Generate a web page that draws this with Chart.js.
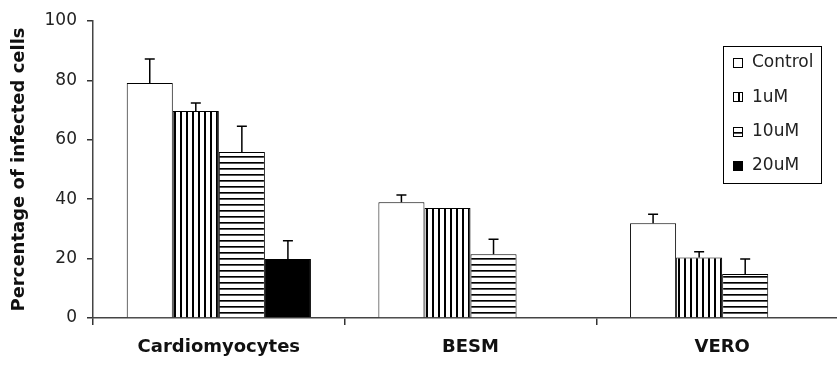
<!DOCTYPE html>
<html>
<head>
<meta charset="utf-8">
<script src="https://cdn.jsdelivr.net/npm/chart.js@4/dist/chart.umd.min.js"></script>
<style>
  body { margin: 0; overflow: hidden; background: #fff; }
  canvas { display: block; }
</style>
</head>
<body>
<canvas id="myChart" width="848" height="365"></canvas>
<script>
  // data
  const categories = ['Cardiomyocytes', 'BESM', 'VERO'];
  const seriesNames = ['Control', '1uM', '10uM', '20uM'];
  const control = [79.1, 39.0, 31.9];
  const um1 = [69.7, 37.0, 20.4];
  const um10 = [55.9, 21.5, 14.8];
  const um20 = [19.9, null, null];
  // size of the upper error bar for each bar
  const controlErr = [8.1, 2.4, 3.0];
  const um1Err = [2.7, 0, 1.9];
  const um10Err = [8.7, 5.0, 5.1];
  const um20Err = [6.1, null, null];
  const yTicks = [0, 20, 40, 60, 80, 100];

  // fill patterns
  function stripes(vertical) {
    const c = document.createElement('canvas');
    c.width = 6; c.height = 6;
    const g = c.getContext('2d');
    g.fillStyle = '#fff';
    g.fillRect(0, 0, 6, 6);
    g.fillStyle = '#000';
    if (vertical) g.fillRect(0, 0, 2, 6);
    else { g.fillRect(0, 0, 6, 1); g.fillStyle = '#555'; g.fillRect(0, 1, 6, 1); }
    return g.createPattern(c, 'repeat');
  }
  const vPattern = stripes(true);
  const hPattern = stripes(false);

  const ctx = document.getElementById('myChart').getContext('2d');

  // error bars, only the upper half
  const errorBars = {
    id: 'errorBars',
    afterDatasetsDraw(chart) {
      const c = chart.ctx;
      const y = chart.scales.y;
      c.save();
      c.strokeStyle = '#000';
      c.lineWidth = 1.5;
      chart.data.datasets.forEach((ds, i) => {
        const meta = chart.getDatasetMeta(i);
        meta.data.forEach((bar, j) => {
          const v = ds.data[j];
          const e = ds.errors[j];
          if (v == null || !e) return;
          const top = y.getPixelForValue(v + e);
          c.beginPath();
          c.moveTo(bar.x, bar.y);
          c.lineTo(bar.x, top);
          c.moveTo(bar.x - 5, top);
          c.lineTo(bar.x + 5, top);
          c.stroke();
        });
      });
      c.restore();
    }
  };

  // boxed legend inside the plot, top right
  const boxLegend = {
    id: 'boxLegend',
    afterDraw(chart) {
      const c = chart.ctx;
      c.save();
      c.strokeStyle = '#000';
      c.lineWidth = 1;
      c.fillStyle = '#fff';
      c.fillRect(723.5, 46.5, 98, 137);
      c.strokeRect(723.5, 46.5, 98, 137);
      c.font = '17px "DejaVu Sans"';
      c.textBaseline = 'middle';
      chart.data.datasets.forEach((ds, i) => {
        const cy = 63 + i * 34.3;
        c.fillStyle = ds.backgroundColor;
        c.fillRect(733, Math.round(cy) - 5, 10, 10);
        c.strokeRect(733.5, Math.round(cy) - 4.5, 9, 9);
        c.fillStyle = '#222';
        c.fillText(ds.label, 752, cy);
      });
      c.restore();
    }
  };

  const base = { borderColor: '#000', borderWidth: 1, barPercentage: 1.0, categoryPercentage: 0.732 };

  const myChart = new Chart(ctx, {
    type: 'bar',
    data: {
      labels: categories,
      datasets: [
        { ...base, label: seriesNames[0], data: control, errors: controlErr, backgroundColor: '#fff' },
        { ...base, label: seriesNames[1], data: um1, errors: um1Err, backgroundColor: vPattern },
        { ...base, label: seriesNames[2], data: um10, errors: um10Err, backgroundColor: hPattern },
        { ...base, label: seriesNames[3], data: um20, errors: um20Err, backgroundColor: '#000' }
      ]
    },
    options: {
      responsive: false,
      animation: false,
      devicePixelRatio: 1,
      layout: { padding: { top: 21, right: 0, left: 0, bottom: 0 } },
      plugins: { legend: { display: false }, tooltip: { enabled: false } },
      scales: {
        x: {
          afterFit(s) { s.height = 47; },
          grid: { display: true, offset: true, drawOnChartArea: false, tickLength: 7, color: '#333', lineWidth: 1.5 },
          border: { color: '#444', width: 1.5 },
          ticks: { color: '#111', padding: 12, font: { family: 'DejaVu Sans', size: 18, weight: 'bold' } }
        },
        y: {
          min: 0,
          max: 100,
          afterFit(s) { s.width = 93; },
          afterBuildTicks(s) { s.ticks = yTicks.map(v => ({ value: v })); },
          grid: { display: true, drawOnChartArea: false, tickLength: 6, color: '#333', lineWidth: 1.5 },
          border: { color: '#444', width: 1.5 },
          ticks: { color: '#222', padding: 10, font: { family: 'DejaVu Sans', size: 17 } },
          title: {
            display: true,
            text: 'Percentage of infected cells',
            color: '#111',
            padding: { top: 9, bottom: 0 },
            font: { family: 'DejaVu Sans', size: 18, weight: 'bold' }
          }
        }
      }
    },
    plugins: [errorBars, boxLegend]
  });
</script>
</body>
</html>
